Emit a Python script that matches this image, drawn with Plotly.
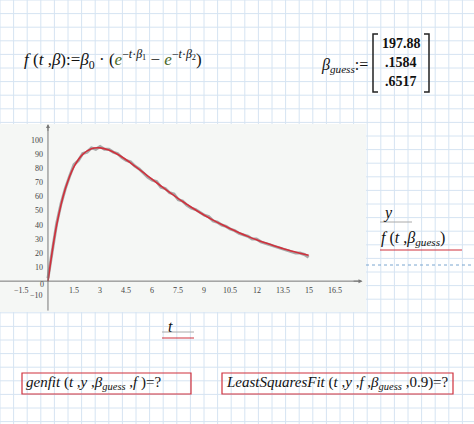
import plotly.graph_objects as go

# fitted curve
t_fit = [0, 0.5, 1, 1.5, 2, 2.5, 3, 3.5, 4, 4.5, 5, 5.5, 6, 6.5, 7, 7.5, 8, 8.5,
         9, 9.5, 10, 10.5, 11, 11.5, 12, 12.5, 13, 13.5, 14, 14.5, 15]
y_fit = [0, 40.0, 65.8, 81.6, 90.4, 94.4, 95.0, 93.5, 90.4, 86.5, 82.0, 77.3,
         72.5, 67.8, 63.2, 58.8, 54.7, 50.7, 47.0, 43.5, 40.3, 37.3, 34.5, 31.9,
         29.5, 27.3, 25.2, 23.3, 21.5, 19.9, 18.4]

# measured data (grey, noisy)
t_data = [0, 0.25, 0.5, 0.75, 1, 1.25, 1.5, 1.75, 2, 2.25, 2.5, 2.75, 3, 3.25,
          3.5, 3.75, 4, 4.25, 4.5, 4.75, 5, 5.25, 5.5, 5.75, 6, 6.25, 6.5, 6.75,
          7, 7.25, 7.5, 7.75, 8, 8.25, 8.5, 8.75, 9, 9.25, 9.5, 9.75, 10, 10.25,
          10.5, 10.75, 11, 11.25, 11.5, 11.75, 12, 12.25, 12.5, 12.75, 13, 13.25,
          13.5, 13.75, 14, 14.25, 14.5, 14.75, 15]
y_data = [2, 23, 41, 55, 66, 75, 83, 86, 91, 92, 95, 94, 96, 94, 94, 92, 91, 88,
          86, 85, 82, 80, 77, 74, 72, 71, 67, 66, 63, 62, 58, 57, 54, 52, 51, 49,
          47, 46, 43, 42, 40, 39, 37, 36, 34, 33, 32, 30, 30, 28, 27, 26, 25, 24,
          23, 22, 21, 20, 20, 19, 17]

x_ticks = [-1.5, 0, 1.5, 3, 4.5, 6, 7.5, 9, 10.5, 12, 13.5, 15, 16.5]
x_labels = ["−1.5", "0", "1.5", "3", "4.5", "6", "7.5", "9", "10.5", "12", "13.5", "15", "16.5"]
y_ticks = [-10, 10, 20, 30, 40, 50, 60, 70, 80, 90, 100]
y_labels = ["−10", "10", "20", "30", "40", "50", "60", "70", "80", "90", "100"]
beta_guess = ["197.88", ".1584", ".6517"]

W, H = 474, 424
FONT = "Liberation Serif, DejaVu Serif, serif"

fig = go.Figure()
fig.add_trace(go.Scatter(x=t_data, y=y_data, mode="lines",
                         line=dict(color="#a8a8a8", width=3), hoverinfo="skip"))
fig.add_trace(go.Scatter(x=t_fit, y=y_fit, mode="lines", line_shape="spline",
                         line=dict(color="#d0303c", width=1.6)))


def py(y):
    return 1 - y / H


shapes = []
# worksheet grid
g = 13.6
for i in range(0, 36):
    shapes.append(dict(type="line", xref="paper", yref="paper", x0=i * g / W, x1=i * g / W,
                       y0=0, y1=1, line=dict(color="#d6e4f2", width=1), layer="below"))
for i in range(0, 32):
    shapes.append(dict(type="line", xref="paper", yref="paper", y0=py(i * g), y1=py(i * g),
                       x0=0, x1=1, line=dict(color="#d6e4f2", width=1), layer="below"))
# plot region
shapes.append(dict(type="rect", xref="paper", yref="paper", x0=0, x1=366 / W,
                   y0=py(312), y1=py(124), fillcolor="#f5f7f5",
                   line=dict(width=0), layer="below"))
# axes
shapes.append(dict(type="line", x0=-2.8, x1=18.0, y0=0, y1=0, line=dict(color="#777", width=1)))
shapes.append(dict(type="line", x0=0, x1=0, y0=-21, y1=110, line=dict(color="#777", width=1)))
# dashed line near right
shapes.append(dict(type="line", xref="paper", yref="paper", x0=366 / W, x1=1,
                   y0=py(265), y1=py(265), line=dict(color="#7aa6d0", width=1, dash="dot")))
# underlines
for x0, x1, y, c in [(380, 412, 222, "#aaa"), (380, 462, 250, "#d0303c"),
                     (162, 194, 332, "#aaa"), (162, 194, 338, "#d0303c")]:
    shapes.append(dict(type="line", xref="paper", yref="paper", x0=x0 / W, x1=x1 / W,
                       y0=py(y), y1=py(y), line=dict(color=c, width=1)))
# red boxes
for x0, x1 in [(22, 191), (222, 453)]:
    shapes.append(dict(type="rect", xref="paper", yref="paper", x0=x0 / W, x1=x1 / W,
                       y0=py(394), y1=py(373), line=dict(color="#d0303c", width=1.2)))
# matrix brackets
for xa, xb in [(378, 373), (424, 429)]:
    shapes.append(dict(type="path", xref="paper", yref="paper",
                       path=f"M {xa / W} {py(34)} L {xb / W} {py(34)} L {xb / W} {py(92)} L {xa / W} {py(92)}",
                       line=dict(color="#222", width=1.5)))

ann = []
for v, s in zip(x_ticks, x_labels):
    if v == 0:
        continue
    ann.append(dict(x=v, y=0, text=s, showarrow=False, yshift=-9,
                    font=dict(family=FONT, size=8, color="#444")))
for v, s in zip(y_ticks, y_labels):
    ann.append(dict(x=0, y=v, text=s, showarrow=False, xanchor="right", xshift=-3,
                    font=dict(family=FONT, size=8, color="#444")))
ann.append(dict(x=0, y=0, text="0", showarrow=False, xanchor="right", xshift=-2, yshift=-3,
                font=dict(family=FONT, size=8, color="#444")))
# arrows
ann.append(dict(x=18.1, y=0, ax=17.5, ay=0, axref="x", ayref="y", showarrow=True,
                arrowhead=2, arrowsize=0.8, arrowcolor="#777", text=""))
ann.append(dict(x=0, y=112, ax=0, ay=106, axref="x", ayref="y", showarrow=True,
                arrowhead=2, arrowsize=0.8, arrowcolor="#777", text=""))


def txt(x, y, s, size=14, anchor="left"):
    ann.append(dict(xref="paper", yref="paper", x=x / W, y=py(y), text=s, showarrow=False,
                    xanchor=anchor, yanchor="middle",
                    font=dict(family=FONT, size=size, color="#111")))


txt(22, 60, "<i>f</i> (<i>t</i> ,<i>β</i>):=<i>β</i><sub>0</sub> · (<i><span style='color:#4a6a2a'>e</span></i>"
    "<sup>−<i>t</i>·<i>β</i><sub>1</sub></sup> − <i><span style='color:#4a6a2a'>e</span></i>"
    "<sup>−<i>t</i>·<i>β</i><sub>2</sub></sup>)", 17)
txt(370, 65, "<i>β</i><sub><i>guess</i></sub>:=", 16, "right")
for i, s in enumerate(beta_guess):
    txt(401, 44 + i * 18.5, f"<b>{s}</b>", 14, "center")
txt(381, 213, "<i>y</i>", 16)
txt(379, 238, "<i>f</i> (<i>t</i> ,<i>β</i><sub><i>guess</i></sub>)", 16)
txt(166, 326, "<i>t</i>", 16)
txt(24, 383, "<i>genfit</i> (<i>t</i> ,<i>y</i> ,<i>β</i><sub><i>guess</i></sub> ,<i>f</i> )=?", 15)
txt(224, 383, "<i>LeastSquaresFit</i> (<i>t</i> ,<i>y</i> ,<i>f</i> ,<i>β</i><sub><i>guess</i></sub> ,0.9)=?", 15)

fig.update_layout(
    width=W, height=H, margin=dict(l=0, r=0, t=0, b=0),
    paper_bgcolor="white", plot_bgcolor="rgba(0,0,0,0)", showlegend=False,
    xaxis=dict(domain=[0, 366 / W], range=[-2.76, 18.3], showgrid=False, zeroline=False,
               showticklabels=False, ticks=""),
    yaxis=dict(domain=[py(312), py(124)], range=[-22, 112], showgrid=False,
               zeroline=False, showticklabels=False, ticks=""),
    shapes=shapes, annotations=ann,
)
fig.write_html("out.html", config={"displayModeBar": False},
               post_script="document.body.style.margin='0';")
